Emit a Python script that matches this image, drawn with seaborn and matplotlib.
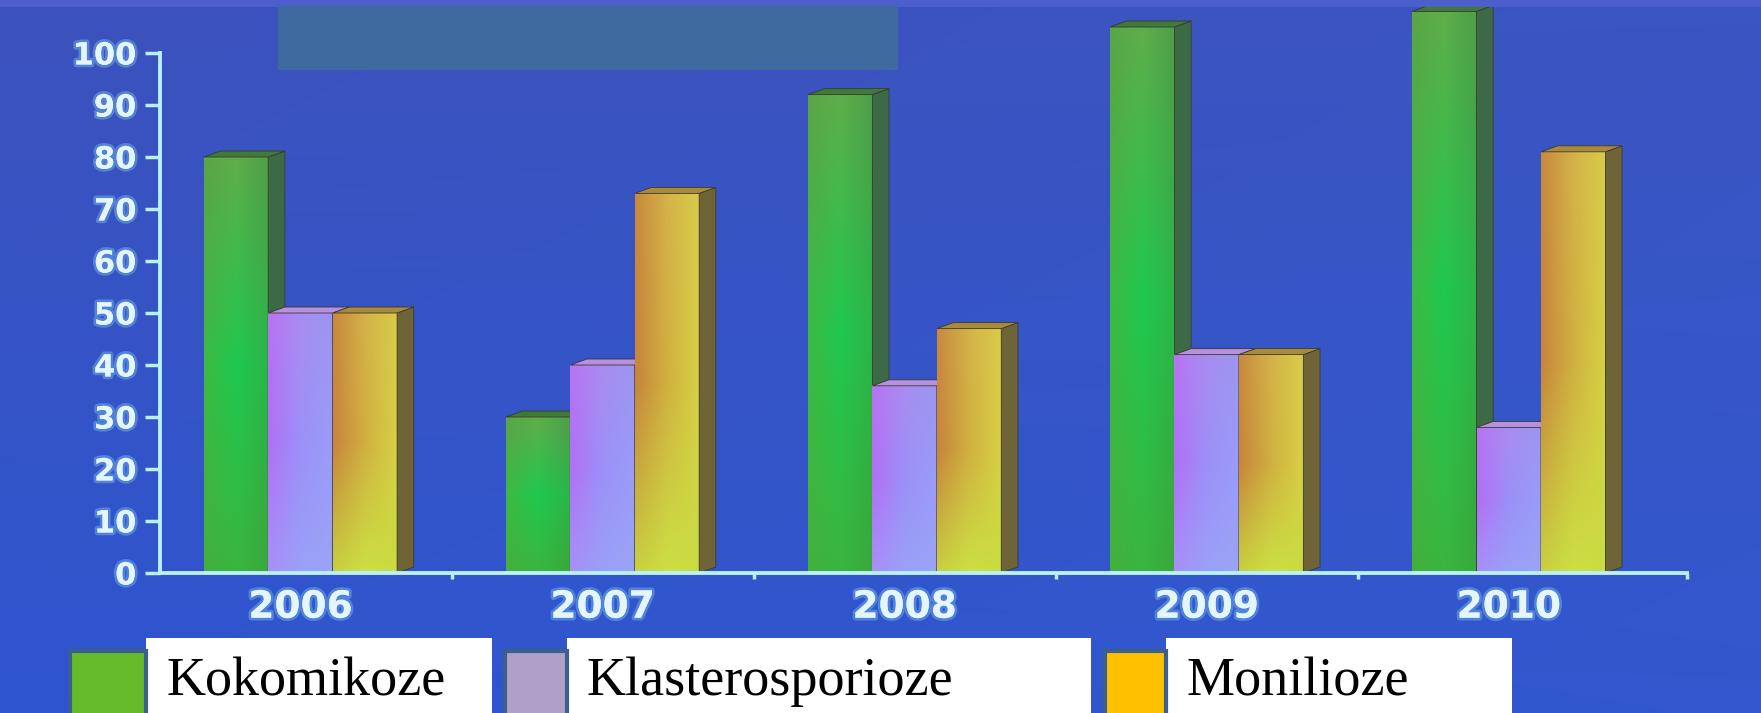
import numpy as np
import pandas as pd
import matplotlib
matplotlib.use("Agg")
import matplotlib.pyplot as plt
import matplotlib.patheffects as pe
from matplotlib.patches import Polygon, Rectangle
from matplotlib.colors import to_rgb
import seaborn as sns

# ---- data -------------------------------------------------------------
years = ["2006", "2007", "2008", "2009", "2010"]
diseases = ["Kokomikoze", "Klasterosporioze", "Monilioze"]
kokomikoze = [80, 30, 92, 105, 108]
klasterosporioze = [50, 40, 36, 42, 28]
monilioze = [50, 73, 47, 42, 81]
legend_colors = ["#66bb2a", "#b0a0c8", "#ffc000"]

df = pd.DataFrame({
    "year": years * 3,
    "disease": np.repeat(diseases, len(years)),
    "value": kokomikoze + klasterosporioze + monilioze,
})

# ---- styling for the 3-D look -----------------------------------------
# front-face colour grids: rows = top / middle / bottom, cols = left / centre / right
face_grids = [
    [["#5aa548", "#5fae4a", "#4f9e48"],
     ["#3cba45", "#1ec94f", "#2cb548"],
     ["#44b03c", "#3ab540", "#3aa83c"]],
    [["#b874f2", "#a88cf0", "#9c96f0"],
     ["#b070f5", "#9c90f8", "#9a9cf8"],
     ["#a890f8", "#9aa0f8", "#9aa4f5"]],
    [["#c88a3e", "#d4b24a", "#d8cc48"],
     ["#c8843c", "#d0b040", "#d8d044"],
     ["#c8d040", "#cce044", "#c8dc40"]],
]
side_colors = ["#3d6a46", "#7a68c0", "#6e6438"]
top_colors = ["#3f7a3a", "#b890e0", "#a88a3a"]
depth_x, depth_y = 0.055, 1.15

axis_color = "#b8f0ff"
label_color = "#e4f6fb"
glow = [pe.withStroke(linewidth=4, foreground=(0.55, 0.85, 1.0, 0.35))]


def grid_image(grid, ny=120, nx=40):
    g = np.array([[to_rgb(c) for c in row] for row in grid])  # 3x3x3
    ys = np.linspace(0, 2, ny)
    xs = np.linspace(0, 2, nx)
    tmp = np.stack([np.stack([np.interp(xs, [0, 1, 2], g[r, :, k]) for k in range(3)], -1)
                    for r in range(3)])  # 3 x nx x 3
    img = np.stack([np.stack([np.interp(ys, [0, 1, 2], tmp[:, c, k]) for k in range(3)], -1)
                    for c in range(nx)], 1)  # ny x nx x 3
    return img


W, H = 1761, 713
sns.set_style("white")
fig = plt.figure(figsize=(W / 100, H / 100), dpi=100)


def fx(px):
    return px / W


def fy(py):
    return 1 - py / H


# background: blue slide with a soft gradient
bg = fig.add_axes([0, 0, 1, 1], zorder=-5)
top_c = np.array(to_rgb("#3c52bc"))
bot_c = np.array(to_rgb("#2e55d0"))
right_c = np.array(to_rgb("#3a5ccc"))
yy, xx = np.mgrid[0:1:200j, 0:1:300j]
bg_img = (top_c * (1 - yy)[..., None] + bot_c * yy[..., None]) * (1 - 0.35 * xx[..., None]) \
    + right_c * 0.35 * xx[..., None]
bg.imshow(bg_img, extent=[0, 1, 0, 1], aspect="auto", interpolation="bilinear")
bg.set_xlim(0, 1)
bg.set_ylim(0, 1)
bg.axis("off")

# ---- main axes ---------------------------------------------------------
x_left, x_right = -0.465, 4.59
ax = fig.add_axes([fx(160), fy(573), fx(1687) - fx(160), fy(1) - fy(573)])
ax.patch.set_alpha(0)

sns.barplot(data=df, x="year", y="value", hue="disease", order=years,
            hue_order=diseases, palette=legend_colors, width=0.64,
            saturation=1, errorbar=None, legend=False, ax=ax)

for i, cont in enumerate(ax.containers):
    base = 2 + i
    img = grid_image(face_grids[i])
    for p in cont.patches:
        x0, w, h = p.get_x(), p.get_width(), p.get_height()
        x1 = x0 + w
        p.set_zorder(base)
        p.set_linewidth(0)
        ax.imshow(img, extent=[x0, x1, 0, h], aspect="auto",
                  interpolation="bilinear", zorder=base + 0.1, origin="upper")
        side = Polygon([(x1, 0), (x1, h), (x1 + depth_x, h + depth_y), (x1 + depth_x, depth_y)],
                       closed=True, facecolor=side_colors[i], edgecolor="#3a3a30",
                       linewidth=0.6, zorder=base + 0.2)
        top = Polygon([(x0, h), (x1, h), (x1 + depth_x, h + depth_y), (x0 + depth_x, h + depth_y)],
                      closed=True, facecolor=top_colors[i], edgecolor="#3a3a30",
                      linewidth=0.6, zorder=base + 0.3)
        ax.add_patch(side)
        ax.add_patch(top)

ax.set_xlim(x_left, x_right)
ax.set_ylim(0, 110)
ax.set_xlabel("")
ax.set_ylabel("")

for s in ["top", "right"]:
    ax.spines[s].set_visible(False)
for s in ["left", "bottom"]:
    ax.spines[s].set_color(axis_color)
    ax.spines[s].set_linewidth(2.8)
    ax.spines[s].set_zorder(20)
ax.spines["left"].set_bounds(0, 100)

ax.set_yticks(range(0, 101, 10))
ax.tick_params(axis="y", left=True, direction="out", length=11, width=2.5,
               color=axis_color, pad=6, labelsize=22, labelcolor=label_color)
ax.set_xticks(range(len(years)))
ax.set_xticklabels(years)
ax.set_xticks([0.5, 1.5, 2.5, 3.5, x_right], minor=True)
ax.tick_params(axis="x", which="major", bottom=False, length=0, pad=12,
               labelsize=27, labelcolor=label_color)
ax.tick_params(axis="x", which="minor", bottom=True, direction="out", length=4.5,
               width=2.5, color=axis_color)
for lab in ax.get_yticklabels() + ax.get_xticklabels():
    lab.set_fontfamily("DejaVu Sans")
    lab.set_fontweight("bold")
    lab.set_path_effects(glow)
ax.grid(False)

# ---- slide decorations ------------------------------------------------
fig.add_artist(Rectangle((0, fy(7)), 1, fy(0) - fy(7), transform=fig.transFigure,
                         facecolor="#4c5fcc", edgecolor="none", zorder=30))
fig.add_artist(Rectangle((fx(278), fy(70)), fx(898) - fx(278), fy(6) - fy(70),
                         transform=fig.transFigure, facecolor="#3e6aa0",
                         edgecolor="none", zorder=30))

# ---- legend: colour swatch + white label box --------------------------
legend_boxes = [(146, 492), (567, 1091), (1166, 1512)]
legend_swatches = [(70, 146), (505, 567), (1105, 1166)]
legend_text_x = [166, 586, 1186]
for k, name in enumerate(diseases):
    bx0, bx1 = legend_boxes[k]
    fig.add_artist(Rectangle((fx(bx0), 0), fx(bx1) - fx(bx0), fy(638),
                             transform=fig.transFigure, facecolor="white",
                             edgecolor="none", zorder=31))
    sx0, sx1 = legend_swatches[k]
    fig.add_artist(Rectangle((fx(sx0), fy(718)), fx(sx1) - fx(sx0), fy(651) - fy(718),
                             transform=fig.transFigure, facecolor=legend_colors[k],
                             edgecolor="#3d5f8c", linewidth=3, zorder=32))
    fig.text(fx(legend_text_x[k]), fy(695), name, fontsize=39,
             family="Liberation Serif", color="black", va="baseline", ha="left",
             zorder=33)

fig.savefig("out.png", dpi=100)
